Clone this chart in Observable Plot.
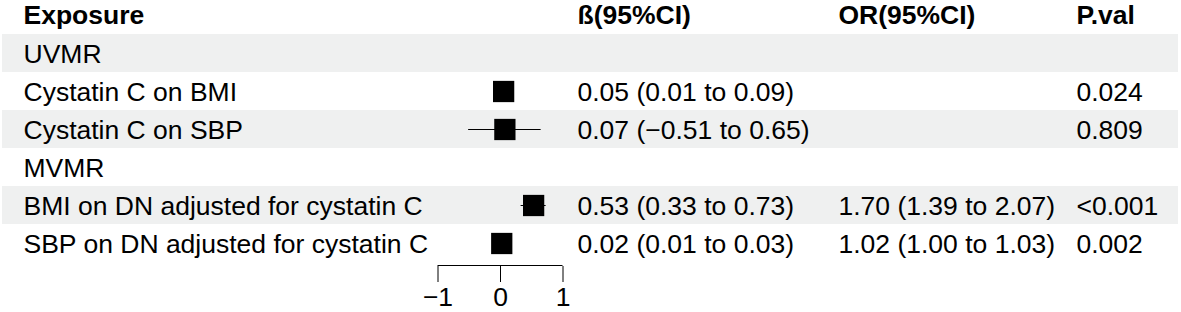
<!DOCTYPE html>
<html>
<head>
<meta charset="utf-8">
<script src="https://cdn.jsdelivr.net/npm/d3@7"></script>
<script src="https://cdn.jsdelivr.net/npm/@observablehq/plot@0.6"></script>
<style>
  html, body { margin: 0; padding: 0; background: #fff; }
  #chart svg { display: block; }
</style>
</head>
<body>
<div id="chart"></div>
<script>
// ---- data ----
const headers = ["Exposure", "ß(95%CI)", "OR(95%CI)", "P.val"];
const labels = [
  "UVMR",
  "Cystatin C on BMI",
  "Cystatin C on SBP",
  "MVMR",
  "BMI on DN adjusted for cystatin C",
  "SBP on DN adjusted for cystatin C"
];
const beta  = [null, 0.05, 0.07, null, 0.53, 0.02];
const lower = [null, 0.01, -0.51, null, 0.33, 0.01];
const upper = [null, 0.09, 0.65, null, 0.73, 0.03];
const orText = ["", "", "", "", "1.70 (1.39 to 2.07)", "1.02 (1.00 to 1.03)"];
const pText  = ["", "0.024", "0.809", "", "<0.001", "0.002"];
const shaded = [true, false, true, false, true, false];
const xTicks = [-1, 0, 1];

// ---- build table ----
const f2 = d3.format(".2f");
const rows = labels.map((label, i) => ({
  label,
  beta: beta[i],
  lower: lower[i],
  upper: upper[i],
  betaText: beta[i] == null ? "" : `${f2(beta[i])} (${f2(lower[i])} to ${f2(upper[i])})`,
  orText: orText[i],
  pText: pText[i],
  shaded: shaded[i]
}));
const est = rows.filter(d => d.beta != null);
const HEADER = "__header__";
const yDomain = [HEADER, ...labels];
const headerRow = [{label: HEADER}];

// column offsets (pixels from the frame's left edge)
const colDx = [21, 575, 836, 1074];
const font = "'Liberation Sans', Arial, sans-serif";
const fs = 26.5;
const textDy = 1.5;

const chart = Plot.plot({
  width: 1181,
  height: 312,
  marginLeft: 2,
  marginRight: 3,
  marginTop: 0,
  marginBottom: 46,
  style: {fontFamily: font, fontSize: fs + "px", color: "black", background: "white"},
  x: {domain: [-1, 1], range: [437.5, 562.5], axis: null},
  y: {domain: yDomain, range: [-5, 263], padding: 0, axis: null},
  marks: [
    // shaded rows
    Plot.cell(rows.filter(d => d.shaded), {y: "label", fill: "#eff0f0"}),
    // reference dashed line at 0
    Plot.ruleX(rows, {x: 0, y: "label", stroke: "#333", strokeWidth: 1, strokeDasharray: "6,6"}),
    // confidence intervals
    Plot.ruleY(est, {y: "label", x1: "lower", x2: "upper", stroke: "black", strokeWidth: 1}),
    // point estimates
    Plot.dot(est, {x: "beta", y: "label", symbol: "square", r: 12, fill: "black", stroke: null}),
    // axis line
    Plot.ruleY([labels[labels.length - 1]], {y: d => d, x1: xTicks[0], x2: xTicks[xTicks.length - 1], dy: 22, stroke: "black"}),
    Plot.axisX({ticks: xTicks, tickFormat: d3.format("d"), tickSize: 16, tickPadding: 5, fontSize: fs, stroke: "black", fill: "black", anchor: "bottom"}),
    // header
    ...headers.map((h, j) => Plot.text(headerRow, {
      y: "label", text: () => h, frameAnchor: "left", dx: colDx[j],
      textAnchor: "start", fontWeight: "bold", fontSize: fs, fill: "black"
    })),
    // table text
    Plot.text(rows, {y: "label", text: "label", frameAnchor: "left", dx: colDx[0], dy: textDy, textAnchor: "start", fontSize: fs, fill: "black"}),
    Plot.text(rows, {y: "label", text: "betaText", frameAnchor: "left", dx: colDx[1], dy: textDy, textAnchor: "start", fontSize: fs, fill: "black"}),
    Plot.text(rows, {y: "label", text: "orText", frameAnchor: "left", dx: colDx[2], dy: textDy, textAnchor: "start", fontSize: fs, fill: "black"}),
    Plot.text(rows, {y: "label", text: "pText", frameAnchor: "left", dx: colDx[3], dy: textDy, textAnchor: "start", fontSize: fs, fill: "black"})
  ]
});
document.getElementById("chart").appendChild(chart);
</script>
</body>
</html>
